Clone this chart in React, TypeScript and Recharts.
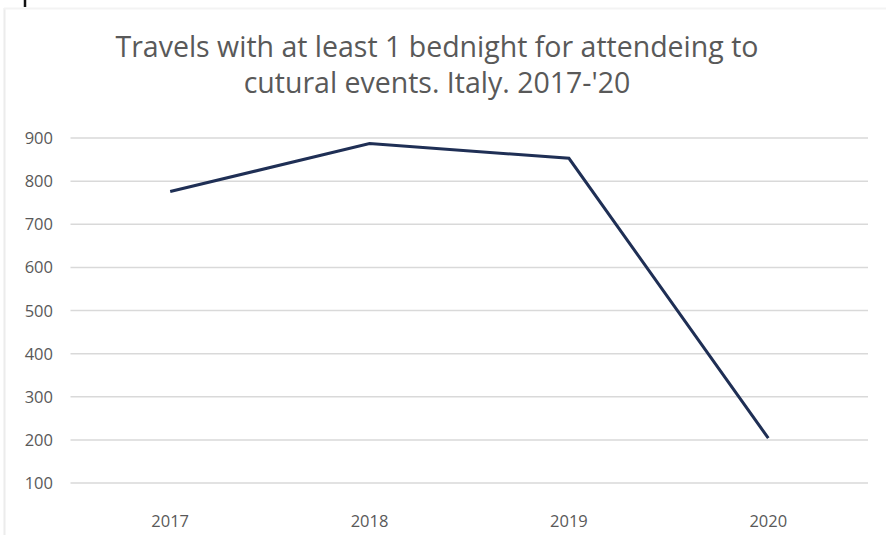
import React from "react";
import { LineChart, Line, XAxis, YAxis, CartesianGrid } from "recharts";

// Years shown on the category axis
const years = ["2017", "2018", "2019", "2020"];
// Travels with at least one overnight stay for cultural events (thousands)
const travels = [776, 887, 853, 204];
// Value axis ticks
const yTicks = [100, 200, 300, 400, 500, 600, 700, 800, 900];

const titleLines = [
  "Travels with at least 1 bednight for attendeing to",
  "cutural events. Italy. 2017-'20",
];

const rows = years.map((year, i) => ({ year, travels: travels[i] }));

const W = 886;
const H = 535;
const FONT = "'Open Sans', 'Noto Sans', sans-serif";
const TEXT = "#595959";

const YTick = (props: any) => {
  const { y, payload } = props;
  return (
    <text x={53} y={y + 6} textAnchor="end" fontSize={16.5} fill={TEXT} fontFamily={FONT}>
      {payload.value}
    </text>
  );
};

const XTick = (props: any) => {
  const { x, y, payload } = props;
  return (
    <text x={x} y={y + 36} textAnchor="middle" fontSize={16.5} fill={TEXT} fontFamily={FONT}>
      {payload.value}
    </text>
  );
};

export default function App() {
  return (
    <div style={{ position: "absolute", left: 0, top: 0, width: W, height: H, background: "#fff", overflow: "hidden" }}>
      <svg width={W} height={H} style={{ position: "absolute", left: 0, top: 0 }}>
        <line x1={4.5} y1={8} x2={4.5} y2={H} stroke="#ececec" strokeWidth={2} />
        <line x1={4} y1={8.5} x2={W} y2={8.5} stroke="#f3f3f3" strokeWidth={2} />
        <line x1={25} y1={0} x2={25} y2={7} stroke="#111" strokeWidth={2.5} />
        {/* two-line chart title */}
        <text textAnchor="middle" fontSize={28.5} fill={TEXT} fontFamily={FONT}>
          <tspan x={437} y={57}>{titleLines[0]}</tspan>
          <tspan x={437} y={93}>{titleLines[1]}</tspan>
        </text>
      </svg>
      <div style={{ position: "absolute", left: 0, top: 0 }}>
        <LineChart width={W} height={H} data={rows} margin={{ top: 138, right: 18, bottom: 22, left: 0 }}>
          <CartesianGrid horizontal vertical={false} stroke="#d9d9d9" strokeWidth={1.5} />
          <XAxis
            dataKey="year"
            axisLine={false}
            tickLine={false}
            height={30}
            padding={{ left: 99.7, right: 99.7 }}
            tick={<XTick />}
          />
          <YAxis
            domain={[100, 900]}
            ticks={yTicks}
            axisLine={false}
            tickLine={false}
            width={70.5}
            tick={<YTick />}
          />
          <Line
            type="linear"
            dataKey="travels"
            stroke="#1f2f55"
            strokeWidth={3}
            dot={false}
            activeDot={false}
            isAnimationActive={false}
          />
        </LineChart>
      </div>
    </div>
  );
}
